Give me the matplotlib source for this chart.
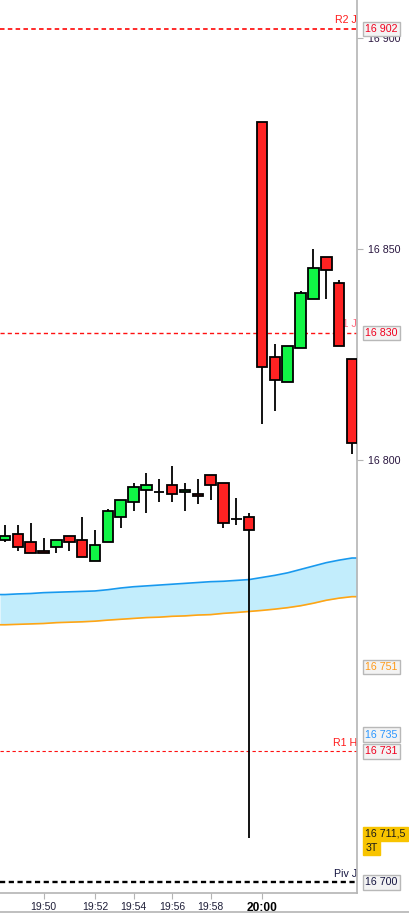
import matplotlib
matplotlib.use('Agg')
import matplotlib.pyplot as plt
import numpy as np
from matplotlib.transforms import blended_transform_factory
from matplotlib.ticker import FuncFormatter, FixedLocator
from matplotlib.lines import Line2D

plt.rcParams['font.family'] = ['Liberation Sans', 'DejaVu Sans']

# ---- data (3-tick candles) ----
opens  = [16781, 16782.5, 16780.5, 16778.5, 16779.5, 16782, 16781, 16776, 16780.5, 16786.5,
          16790, 16793, 16792.5, 16794, 16792.5, 16792, 16796.5, 16794.5, 16786, 16786.5,
          16880, 16824.5, 16818.5, 16826.5, 16838, 16848, 16842, 16824]
highs  = [16784.5, 16784.5, 16785, 16781.5, 16781, 16782, 16786.5, 16783.5, 16788.5, 16790.5,
          16794.5, 16797, 16795.5, 16798.5, 16794.5, 16795.5, 16796.5, 16794.5, 16791, 16787.5,
          16880, 16827.5, 16827, 16840, 16850, 16848, 16842.5, 16824]
lows   = [16780.5, 16778.5, 16778, 16778, 16778, 16778.5, 16777, 16776, 16780.5, 16784,
          16788, 16787.5, 16790, 16790, 16788, 16789.5, 16790.5, 16784, 16784.5, 16710.5,
          16808.5, 16811.5, 16818.5, 16826.5, 16838, 16838, 16827, 16801.5]
closes = [16782, 16779.5, 16778, 16778, 16781, 16780.5, 16777, 16780, 16788, 16790.5,
          16793.5, 16794, 16792.5, 16792, 16793, 16791.5, 16794, 16785, 16786, 16783.5,
          16822, 16819, 16827, 16839.5, 16845.5, 16845, 16827, 16804]

band_upper = [16768.15, 16768.3, 16768.4, 16768.6, 16768.7, 16768.8, 16768.9, 16769.0, 16769.3, 16769.7,
              16770.0, 16770.2, 16770.4, 16770.6, 16770.8, 16771.0, 16771.2, 16771.3, 16771.5, 16771.7,
              16772.2, 16772.7, 16773.3, 16774.1, 16774.9, 16775.7, 16776.3, 16776.8]
band_lower = [16761.0, 16761.1, 16761.2, 16761.3, 16761.5, 16761.6, 16761.7, 16761.85, 16762.1, 16762.3,
              16762.5, 16762.7, 16762.8, 16763.0, 16763.1, 16763.3, 16763.4, 16763.7, 16763.9, 16764.15,
              16764.4, 16764.7, 16765.05, 16765.5, 16766.1, 16766.8, 16767.3, 16767.65]

time_tick_idx = [3, 7, 10, 13, 16, 20]
time_tick_labels = ['19:50', '19:52', '19:54', '19:56', '19:58', '20:00']

levels = [16902, 16830, 16731, 16700]
level_names = ['R2 J', 'R1 J', 'R1 H', 'Piv J']
level_texts = ['16 902', '16 830', '16 731', '16 700']

extra_label_vals = [16751, 16735, 16711.5]
extra_label_texts = ['16 751', '16 735', '16 711,5']
yticks_vals = [16800, 16850, 16900]

FS = 7.7

# ---- figure ----
W, H = 410, 914
fig = plt.figure(figsize=(W / 100, H / 100), dpi=100)
ax = fig.add_axes([0, 21 / H, 357 / W, 893 / H])
ax.set_xlim(-0.39, 27.39)
ax.set_ylim(16697.5, 16908.9)

n = len(opens)
x = np.arange(n)
o = np.array(opens); c = np.array(closes)
up = c >= o

# band
xb = np.concatenate([[ax.get_xlim()[0]], x, [ax.get_xlim()[1]]])
ub = np.concatenate([[band_upper[0]], band_upper, [band_upper[-1]]])
lb = np.concatenate([[band_lower[0]], band_lower, [band_lower[-1]]])
ax.fill_between(xb, lb, ub, color='#c2edfc', lw=0, zorder=1)
ax.plot(xb, ub, color='#1899ee', lw=1.2, zorder=1.5)
ax.plot(xb, lb, color='#ffa514', lw=1.2, zorder=1.5)

# level lines
styles = {
    'R2 J': dict(color='#ff1010', lw=1.25, dashes=(2.6, 1.9)),
    'R1 J': dict(color='#ff1010', lw=1.0, dashes=(3.0, 2.2)),
    'R1 H': dict(color='#ff1010', lw=0.8, dashes=(3.0, 2.4)),
    'Piv J': dict(color='#000000', lw=1.7, dashes=(2.2, 1.5)),
}
name_colors = {'R2 J': '#ff1a1a', 'R1 J': '#ff6a7e', 'R1 H': '#ff1a1a', 'Piv J': '#151540'}
for lv, nm in zip(levels, level_names):
    st = styles[nm]
    ax.axhline(lv, color=st['color'], lw=st['lw'], dashes=st['dashes'], zorder=1.2)
    ax.text(0.9995, lv + 0.9, nm, transform=blended_transform_factory(ax.transAxes, ax.transData),
            ha='right', va='bottom', color=name_colors[nm], fontsize=FS, zorder=1.3)

# candles
ax.vlines(x, lows, highs, color='black', lw=1.3, zorder=2)
body_h = c - o
ax.bar(x, body_h, bottom=o, width=0.82,
       color=np.where(up, '#10f545', '#ff2222'), edgecolor='black', linewidth=1.3, zorder=3)

# axes styling
for s in ['top', 'left']:
    ax.spines[s].set_visible(False)
ax.spines['right'].set_color('#b4b4b4')
ax.spines['bottom'].set_color('#b4b4b4')
ax.spines['right'].set_linewidth(1.2)
ax.spines['bottom'].set_linewidth(1.2)

ax.yaxis.tick_right()
ax.yaxis.set_major_locator(FixedLocator(yticks_vals))
ax.yaxis.set_major_formatter(FuncFormatter(lambda v, p: f"{int(v):,}".replace(',', ' ')))
ax.tick_params(axis='y', direction='out', length=4, color='#b4b4b4', pad=4,
               labelsize=FS, labelcolor='#2a1740')
ax.set_xticks(time_tick_idx)
ax.set_xticklabels(time_tick_labels)
ax.tick_params(axis='x', direction='out', length=4, color='#b4b4b4', pad=2.5,
               labelsize=7.5, labelcolor='#1e1e38')
lab = ax.get_xticklabels()[-1]
lab.set_fontweight('bold')
lab.set_fontsize(8.6)
lab.set_color('#000000')

# right-side value labels
tr = blended_transform_factory(ax.transAxes, ax.transData)
box = dict(boxstyle='square,pad=0.2', fc='#f3f3f3', ec='#b8b8b8', lw=1)
lbl_x = 365.5 / 357
value_colors = {'16 902': '#f0001e', '16 830': '#f0001e', '16 731': '#f0001e', '16 700': '#151540'}
for lv, t in zip(levels, level_texts):
    ax.text(lbl_x, lv, t, transform=tr, ha='left', va='center', color=value_colors[t],
            fontsize=FS, bbox=box, clip_on=False, zorder=10)
ax.text(lbl_x, extra_label_vals[0], extra_label_texts[0], transform=tr, ha='left', va='center',
        color='#ff9a1a', fontsize=FS, bbox=box, clip_on=False, zorder=10)
ax.text(lbl_x, extra_label_vals[1], extra_label_texts[1], transform=tr, ha='left', va='center',
        color='#2a96ff', fontsize=FS, bbox=box, clip_on=False, zorder=10)
ybox = dict(boxstyle='square,pad=0.2', fc='#f8c400', ec='#f8c400', lw=1)
ax.text(lbl_x, extra_label_vals[2], extra_label_texts[2], transform=tr, ha='left', va='center',
        color='#1a1a1a', fontsize=FS, bbox=ybox, clip_on=False, zorder=10)
ax.text(lbl_x, extra_label_vals[2] - 3.3, '3T', transform=tr, ha='left', va='center',
        color='#1a1a1a', fontsize=FS, bbox=ybox, clip_on=False, zorder=10)

# bottom border of the window
fig.add_artist(Line2D([0, 1], [2 / H, 2 / H], transform=fig.transFigure, color='#b4b4b4', lw=1.2))

fig.savefig('out.png', dpi=100)
